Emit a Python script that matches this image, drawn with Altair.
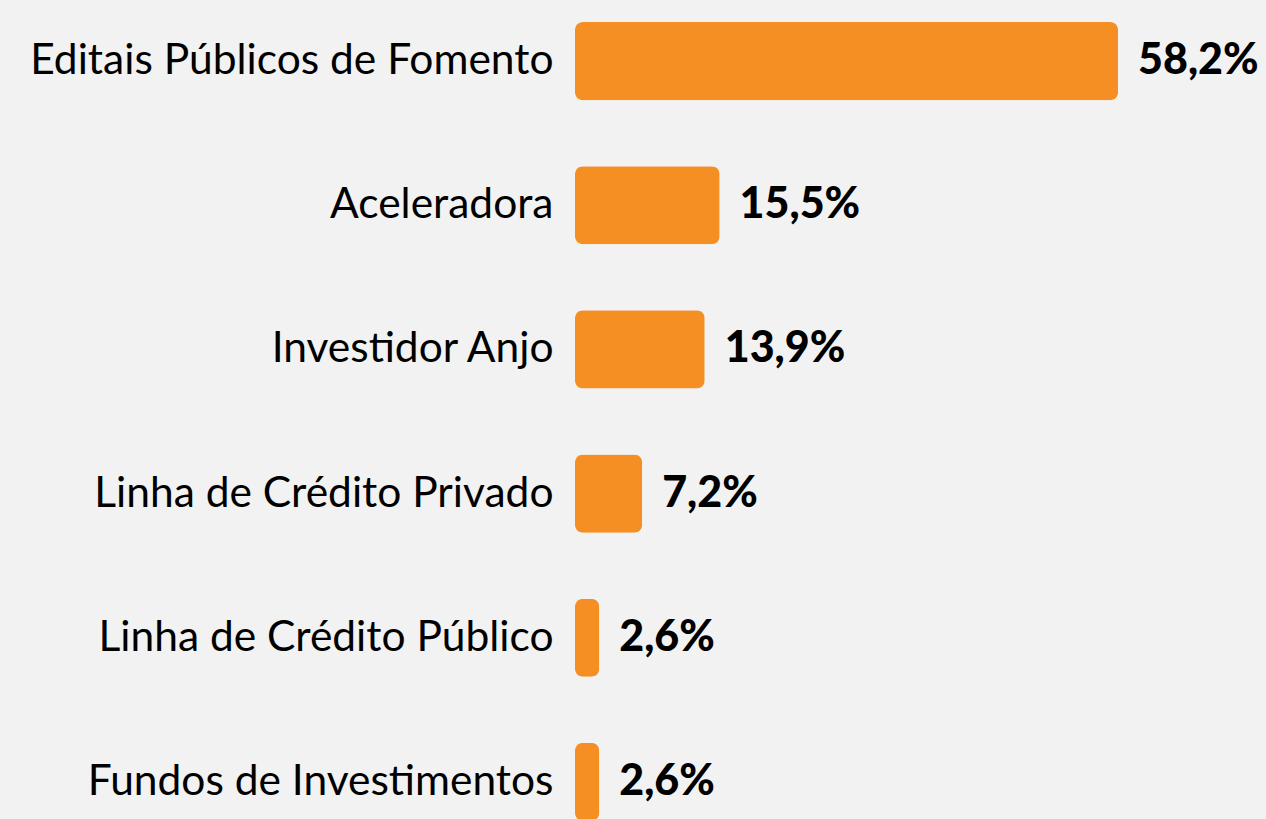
import altair as alt
import pandas as pd
import jinja2

categories = [
    "Editais Públicos de Fomento",
    "Aceleradora",
    "Investidor Anjo",
    "Linha de Crédito Privado",
    "Linha de Crédito Público",
    "Fundos de Investimentos",
]
values = [58.2, 15.5, 13.9, 7.2, 2.6, 2.6]
value_labels = ["58,2%", "15,5%", "13,9%", "7,2%", "2,6%", "2,6%"]

df = pd.DataFrame({"cat": categories, "val": values, "lbl": value_labels})

y_enc = alt.Y(
    "cat:N",
    sort=categories,
    title=None,
    scale=alt.Scale(range=[14, 813], paddingInner=0.458, paddingOuter=0),
    axis=alt.Axis(
        labelFont="Lato",
        labelFontSize=42.5,
        labelColor="#000000",
        labelPadding=22,
        labelLimit=700,
        ticks=False,
        domain=False,
        grid=False,
    ),
)
x_scale = alt.Scale(domain=[0, 73.2], nice=False, zero=True)

bars = alt.Chart(df).mark_bar(color="#F58F23", cornerRadius=8).encode(
    x=alt.X("val:Q", scale=x_scale, axis=None),
    y=y_enc,
)

text = alt.Chart(df).mark_text(
    align="left", baseline="middle", dx=20, font="Lato", fontWeight=900,
    fontSize=43, color="#000000"
).encode(
    x=alt.X("val:Q", scale=x_scale, axis=None),
    y=alt.Y("cat:N", sort=categories),
    text="lbl:N",
)

chart = (bars + text).properties(
    width=683,
    height=811,
    background="#f2f2f2",
    padding={"left": 567, "top": 0, "right": 0, "bottom": 0},
    autosize=alt.AutoSizeParams(type="none"),
).configure_view(stroke=None)

page = jinja2.Template("""<!DOCTYPE html>
<html>
<head>
<meta charset="utf-8">
<style>
html, body { background: #f2f2f2; overflow: hidden; }
body { margin: 8px 8px 0 8px; }
</style>
<script type="text/javascript" src="{{ base_url }}/vega@{{ vega_version }}"></script>
<script type="text/javascript" src="{{ base_url }}/vega-lite@{{ vegalite_version }}"></script>
<script type="text/javascript" src="{{ base_url }}/vega-embed@{{ vegaembed_version }}"></script>
</head>
<body>
<div id="{{ output_div }}"></div>
<script type="text/javascript">
  (function(vegaEmbed) {
    var spec = {{ spec }};
    var embedOpt = {{ embed_options }};
    vegaEmbed("#{{ output_div }}", spec, embedOpt).catch(console.error);
  })(vegaEmbed);
</script>
</body>
</html>
""")

chart.save("out.html", embed_options={"renderer": "svg", "actions": False}, template=page)
